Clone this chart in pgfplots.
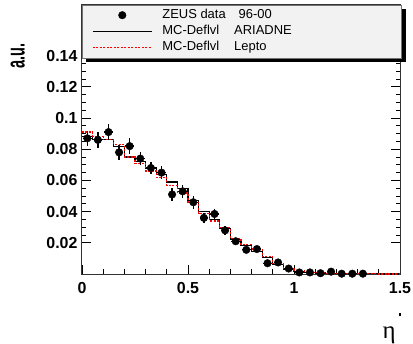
\documentclass[border=0pt]{standalone}
\usepackage{pgfplots}
\pgfplotsset{compat=1.18}
\usepackage{pgfplotstable}
\usepackage{fontspec}
\setmainfont{Liberation Sans}
\newfontfamily\serifgreek{Liberation Serif}

\pgfplotstableread{
x y ex ey
0.025 0.087 0.02 0.005
0.075 0.086 0.02 0.005
0.125 0.091 0.02 0.005
0.175 0.078 0.02 0.005
0.225 0.082 0.02 0.005
0.275 0.074 0.02 0.004
0.325 0.068 0.02 0.004
0.375 0.065 0.02 0.004
0.425 0.051 0.02 0.004
0.475 0.053 0.02 0.004
0.525 0.046 0.02 0.004
0.575 0.036 0.02 0.003
0.625 0.0385 0.02 0.003
0.675 0.028 0.02 0.003
0.725 0.021 0.02 0.002
0.775 0.0155 0.02 0.002
0.825 0.016 0.02 0.002
0.875 0.0069 0.02 0.0015
0.925 0.0074 0.02 0.0015
0.975 0.0035 0.02 0.001
1.025 0.0010 0.02 0.001
1.075 0.0010 0.02 0.001
1.125 0.0005 0.02 0.0008
1.175 0.0015 0.02 0.0008
1.225 0.0002 0.02 0.0005
1.275 0.0002 0.02 0.0005
1.325 0.0002 0.02 0.0005
}\data

\pgfplotstableread{
x y
0.00 0.088
0.05 0.086
0.10 0.086
0.15 0.082
0.20 0.075
0.25 0.072
0.30 0.068
0.35 0.064
0.40 0.059
0.45 0.055
0.50 0.047
0.55 0.040
0.60 0.035
0.65 0.029
0.70 0.022
0.75 0.018
0.80 0.0145
0.85 0.0105
0.90 0.006
0.95 0.003
1.00 0.0018
1.05 0.0010
1.10 0.0007
1.15 0.0004
1.20 0.0002
1.25 0.0002
1.30 0.0001
1.35 0.0001
1.40 0.0
1.45 0.0
1.50 0.0
}\ariadne

\pgfplotstableread{
x y
0.00 0.091
0.05 0.088
0.10 0.086
0.15 0.083
0.20 0.075
0.25 0.071
0.30 0.066
0.35 0.062
0.40 0.057
0.45 0.052
0.50 0.046
0.55 0.039
0.60 0.034
0.65 0.030
0.70 0.023
0.75 0.019
0.80 0.016
0.85 0.011
0.90 0.0065
0.95 0.0035
1.00 0.0020
1.05 0.0012
1.10 0.0008
1.15 0.0005
1.20 0.0003
1.25 0.0002
1.30 0.0001
1.35 0.0001
1.40 0.0
1.45 0.0
1.50 0.0
}\lepto

\begin{document}
\begin{tikzpicture}
\begin{axis}[
  scale only axis,
  width=318bp, height=269bp,
  xmin=0, xmax=1.5, ymin=0, ymax=0.1725,
  clip=false,
  axis line style={line width=1bp, black!80},
  xtick={0,0.5,1,1.5},
  ytick={0.02,0.04,0.06,0.08,0.1,0.12,0.14},
  minor x tick num=4,
  minor y tick num=3,
  major tick length=9bp, minor tick length=4.5bp,
  every tick/.style={black, line width=0.8bp},
  tick align=inside,
  /pgf/number format/assume math mode=true,
  /pgf/number format/fixed,
  /pgf/number format/precision=2,
  tick label style={font=\bfseries\fontsize{16}{16}\selectfont},
  yticklabel style={xshift=-1bp},
  xticklabel style={yshift=-5bp},
  xlabel={{\serifgreek\fontsize{25}{25}\selectfont η}\hspace{3bp}\raisebox{22bp}{\rule{2.6bp}{2.6bp}}},
  xlabel style={at={(rel axis cs:1,0)}, anchor=base east, yshift=-64bp, xshift=1.5bp, inner sep=0pt},
  ylabel={\resizebox{25bp}{14bp}{\bfseries a.u.}},
  ylabel style={at={(axis description cs:-0.179,0.859)}, anchor=south east, inner sep=0pt, rotate=0},
  legend cell align=left,
  legend style={at={(rel axis cs:0,1)}, anchor=north west,
    draw=none, fill=none,
    inner xsep=10bp, inner ysep=3bp,
    column sep=10bp, row sep=2bp,
    nodes={inner sep=0pt, text height=10bp, text depth=4bp},
    font=\fontsize{13}{14}\selectfont},
  before end axis/.code={
    \fill[black] ([xshift=4bp,yshift=-4bp]rel axis cs:0,0.803) rectangle ([xshift=4bp,yshift=-4bp]rel axis cs:1.005,1);
    \filldraw[fill=black!5, draw=black!55, line width=0.7bp] (rel axis cs:0,0.803) rectangle (rel axis cs:1.005,1);
  },
]
\addlegendimage{legend image code/.code={\path (0bp,0bp) (59bp,0bp); \fill[black] (29.5bp,0bp) circle[radius=3.8bp];}}
\addlegendentry{\makebox[229bp][l]{ZEUS data\hspace{13bp}96-00}}
\addplot[const plot, black, line width=1.1bp,
  legend image code/.code={\draw[black, line width=1.1bp] (0bp,0bp) -- (59bp,0bp);}]
  table[x=x,y=y] {\ariadne};
\addlegendentry{\makebox[229bp][l]{MC-Deflvl\hspace{15bp}ARIADNE}}
\addplot[const plot, red, line width=1.2bp, dash pattern=on 2bp off 1.5bp,
  legend image code/.code={\draw[red, line width=1.2bp, dash pattern=on 2bp off 1.5bp] (0bp,0bp) -- (59bp,0bp);}]
  table[x=x,y=y] {\lepto};
\addlegendentry{\makebox[229bp][l]{MC-Deflvl\hspace{15bp}Lepto}}
\addplot[only marks, mark=*, black, mark size=3.8bp, forget plot,
  error bars/.cd, x dir=both, x explicit, y dir=both, y explicit,
  error bar style={line width=1.3bp, black}, error mark=none]
  table[x=x, y=y, x error=ex, y error=ey] {\data};
\end{axis}
\pgfresetboundingbox
\path[use as bounding box] (-82bp,-70bp) rectangle (331bp,274bp);
\end{tikzpicture}
\end{document}
